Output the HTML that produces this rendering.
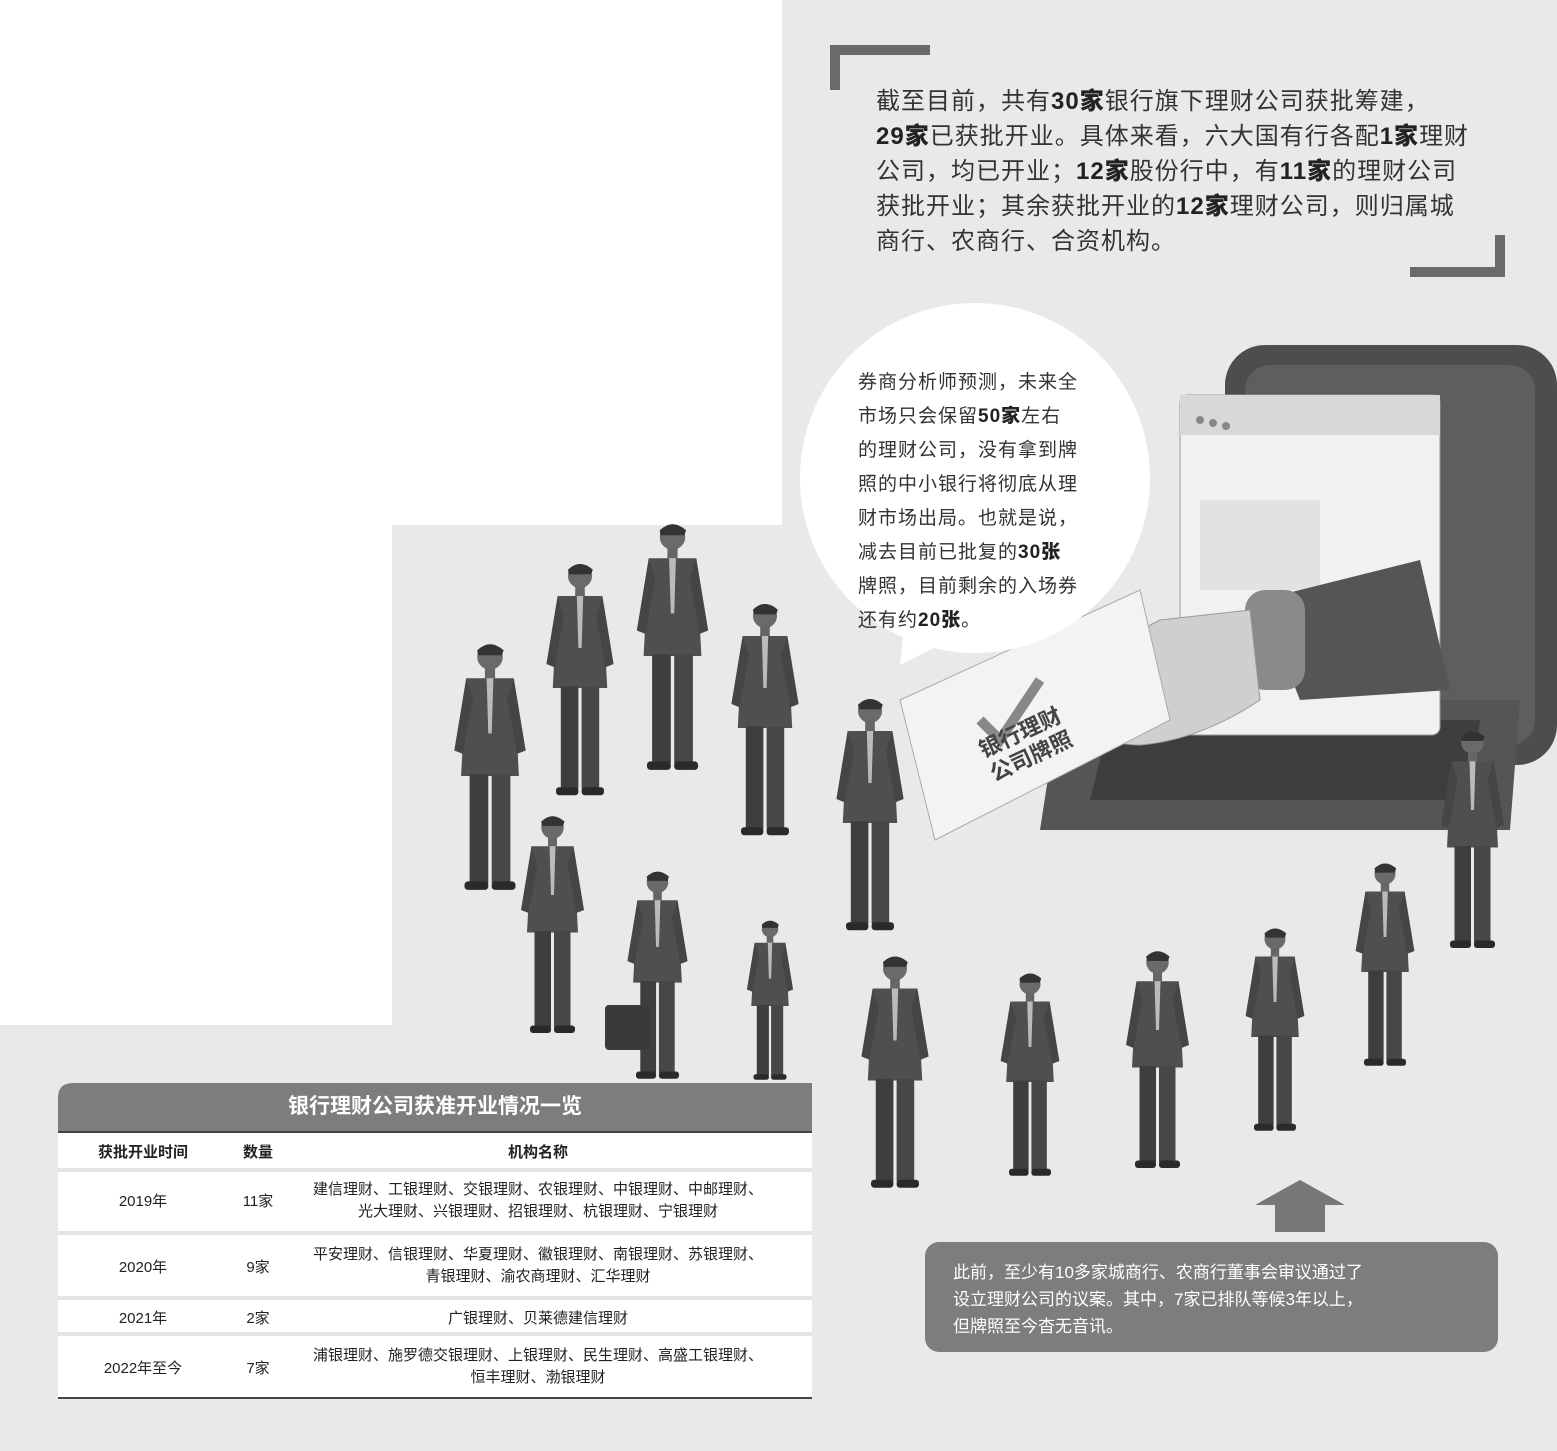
<!DOCTYPE html>
<html><head><meta charset="utf-8"><style>
body{margin:0;width:1557px;height:1451px;position:relative;overflow:hidden;background:#fff;font-family:"Liberation Sans","Noto Sans CJK SC",sans-serif;}
.a{position:absolute;}
b{font-weight:900;color:#222}
</style></head><body>
<svg class="a" style="left:0;top:0" width="1557" height="1451">
<defs>
<symbol id="p" viewBox="0 0 100 300">
<circle cx="50" cy="20" r="15" fill="#6a6a6a"/>
<path d="M35 12 Q50 -2 66 12 L64 18 L36 18Z" fill="#333"/>
<rect x="44" y="33" width="12" height="12" fill="#666"/>
<path d="M22 45 L78 45 L84 160 L16 160Z" fill="#4f4f4f"/>
<path d="M22 45 L8 130 L18 134 L30 70Z M78 45 L92 130 L82 134 L70 70Z" fill="#454545"/>
<path d="M46 45 L54 45 L52 110 L48 110Z" fill="#bbb"/>
<rect x="26" y="158" width="22" height="128" fill="#3e3e3e"/>
<rect x="52" y="158" width="22" height="128" fill="#474747"/>
<rect x="20" y="284" width="28" height="10" rx="4" fill="#2a2a2a"/>
<rect x="52" y="284" width="28" height="10" rx="4" fill="#2a2a2a"/>
</symbol>
</defs>
<path d="M782 0 H1557 V1451 H0 V1025 H392 V525 H782Z" fill="#e9e9e9"/>
<path d="M830 45 H930 V55 H840 V90 H830Z" fill="#6a6a6a"/>
<path d="M1505 235 V277 H1410 V267 H1495 V235Z" fill="#6a6a6a"/>
<rect x="1225" y="345" width="332" height="420" rx="40" fill="#4d4d4d"/>
<rect x="1245" y="365" width="290" height="380" rx="25" fill="#5e5e5e"/>
<path d="M1060 700 L1520 700 L1510 830 L1040 830Z" fill="#555"/>
<path d="M1110 720 L1480 720 L1470 800 L1090 800Z" fill="#3e3e3e"/>
<rect x="1180" y="395" width="260" height="340" rx="8" fill="#f1f1f1" stroke="#999"/>
<rect x="1180" y="395" width="260" height="40" fill="#d8d8d8"/>
<circle cx="1200" cy="420" r="4" fill="#888"/><circle cx="1213" cy="423" r="4" fill="#888"/><circle cx="1226" cy="426" r="4" fill="#888"/>
<rect x="1200" y="500" width="120" height="90" fill="#e2e2e2"/>
<path d="M1260 600 L1420 560 L1450 690 L1300 700Z" fill="#555"/>
<rect x="1245" y="590" width="60" height="100" rx="20" fill="#8a8a8a"/>
<path d="M1070 700 Q1100 650 1160 620 L1250 610 L1260 700 Q1200 740 1140 745 Q1100 745 1080 720Z" fill="#cfcfcf" stroke="#999"/>
<path d="M900 700 L1140 590 L1170 720 L935 840Z" fill="#f3f3f3" stroke="#aaa"/>
<path d="M980 720 L1000 740 L1040 680" stroke="#888" stroke-width="10" fill="none"/>
<circle cx="975" cy="478" r="175" fill="#fff"/>
<path d="M905 620 L900 665 L950 640Z" fill="#fff"/>
<use href="#p" x="445" y="640" width="90" height="255"/>
<use href="#p" x="540" y="555" width="80" height="250"/>
<use href="#p" x="630" y="520" width="85" height="255"/>
<use href="#p" x="725" y="600" width="80" height="240"/>
<use href="#p" x="830" y="690" width="80" height="250"/>
<use href="#p" x="515" y="805" width="75" height="240"/>
<use href="#p" x="620" y="868" width="75" height="215"/>
<use href="#p" x="735" y="918" width="70" height="165"/>
<use href="#p" x="855" y="950" width="80" height="245"/>
<use href="#p" x="995" y="955" width="70" height="240"/>
<use href="#p" x="1120" y="940" width="75" height="240"/>
<use href="#p" x="1240" y="895" width="70" height="270"/>
<use href="#p" x="1350" y="845" width="70" height="240"/>
<use href="#p" x="1435" y="725" width="75" height="230"/>
<rect x="605" y="1005" width="45" height="45" rx="4" fill="#3a3a3a"/>
<path d="M1300 1180 L1345 1205 L1325 1205 L1325 1232 L1275 1232 L1275 1205 L1255 1205Z" fill="#777"/>
<path d="M58 1098 Q58 1083 73 1083 H812 V1131 H58Z" fill="#7d7d7d"/>
<rect x="58" y="1131" width="754" height="2" fill="#444"/>
<rect x="58" y="1133" width="754" height="265" fill="#fff"/>
<rect x="58" y="1168" width="754" height="4" fill="#e4e4e4"/>
<rect x="58" y="1231" width="754" height="4" fill="#e4e4e4"/>
<rect x="58" y="1296" width="754" height="4" fill="#e4e4e4"/>
<rect x="58" y="1332" width="754" height="4" fill="#e4e4e4"/>
<rect x="58" y="1397" width="754" height="2" fill="#444"/>
<rect x="925" y="1242" width="573" height="110" rx="14" fill="#7d7d7d"/>
</svg>
<div class="a" style="left:876px;top:84px;font-size:24px;line-height:35px;color:#333;letter-spacing:1px">截至目前，共有<b>30家</b>银行旗下理财公司获批筹建，<br><b>29家</b>已获批开业。具体来看，六大国有行各配<b>1家</b>理财<br>公司，均已开业；<b>12家</b>股份行中，有<b>11家</b>的理财公司<br>获批开业；其余获批开业的<b>12家</b>理财公司，则归属城<br>商行、农商行、合资机构。</div>
<div class="a" style="left:858px;top:366px;font-size:19px;line-height:34px;color:#333;letter-spacing:1px">券商分析师预测，未来全<br>市场只会保留<b>50家</b>左右<br>的理财公司，没有拿到牌<br>照的中小银行将彻底从理<br>财市场出局。也就是说，<br>减去目前已批复的<b>30张</b><br>牌照，目前剩余的入场券<br>还有约<b>20张</b>。</div>
<div class="a" style="left:975px;top:740px;font-size:22px;font-weight:bold;line-height:26px;color:#444;transform:rotate(-25deg);transform-origin:left top">银行理财<br>公司牌照</div>
<div class="a" style="left:58px;top:1083px;width:754px;height:48px;line-height:48px;text-align:center;color:#fff;font-size:21px;font-weight:bold">银行理财公司获准开业情况一览</div>
<div class="a" style="left:58px;top:1133px;width:754px;font-size:15px;color:#222">
<div style="position:absolute;top:8px;left:0;width:170px;text-align:center;font-weight:bold">获批开业时间</div>
<div style="position:absolute;top:8px;left:170px;width:60px;text-align:center;font-weight:bold">数量</div>
<div style="position:absolute;top:8px;left:230px;width:500px;text-align:center;font-weight:bold">机构名称</div>
<div style="position:absolute;top:57px;left:0;width:170px;text-align:center">2019年</div>
<div style="position:absolute;top:57px;left:170px;width:60px;text-align:center">11家</div>
<div style="position:absolute;top:46px;left:230px;width:500px;text-align:center;line-height:22px;white-space:nowrap">建信理财、工银理财、交银理财、农银理财、中银理财、中邮理财、<br>光大理财、兴银理财、招银理财、杭银理财、宁银理财</div>
<div style="position:absolute;top:123px;left:0;width:170px;text-align:center">2020年</div>
<div style="position:absolute;top:123px;left:170px;width:60px;text-align:center">9家</div>
<div style="position:absolute;top:111px;left:230px;width:500px;text-align:center;line-height:22px;white-space:nowrap">平安理财、信银理财、华夏理财、徽银理财、南银理财、苏银理财、<br>青银理财、渝农商理财、汇华理财</div>
<div style="position:absolute;top:174px;left:0;width:170px;text-align:center">2021年</div>
<div style="position:absolute;top:174px;left:170px;width:60px;text-align:center">2家</div>
<div style="position:absolute;top:174px;left:230px;width:500px;text-align:center">广银理财、贝莱德建信理财</div>
<div style="position:absolute;top:224px;left:0;width:170px;text-align:center">2022年至今</div>
<div style="position:absolute;top:224px;left:170px;width:60px;text-align:center">7家</div>
<div style="position:absolute;top:212px;left:230px;width:500px;text-align:center;line-height:22px;white-space:nowrap">浦银理财、施罗德交银理财、上银理财、民生理财、高盛工银理财、<br>恒丰理财、渤银理财</div>
</div>
<div class="a" style="left:953px;top:1259px;font-size:17px;line-height:27px;color:#fff">此前，至少有10多家城商行、农商行董事会审议通过了<br>设立理财公司的议案。其中，7家已排队等候3年以上，<br>但牌照至今杳无音讯。</div>
</body></html>
